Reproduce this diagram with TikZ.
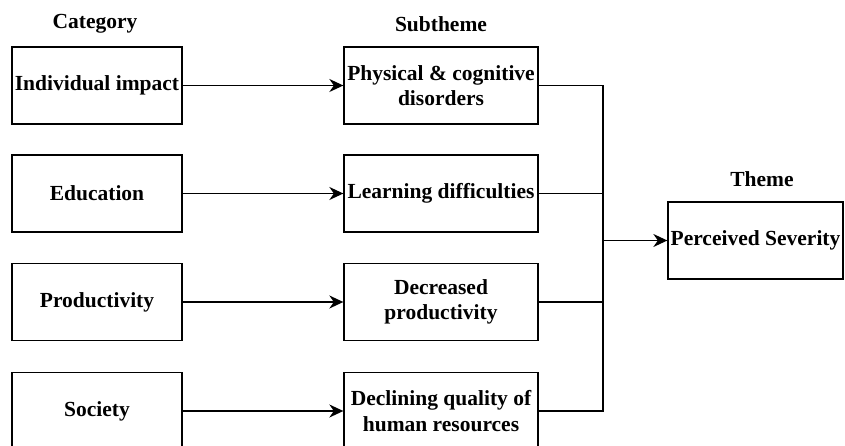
\documentclass[tikz,border=0pt]{standalone}
\usepackage{fontspec}
\setmainfont{Liberation Serif}
\usetikzlibrary{arrows.meta}
\begin{document}
\begin{tikzpicture}[x=1pt,y=-1pt,
  every node/.style={font=\fontsize{21.5}{25.5}\selectfont\bfseries},
  box/.style={draw=black,line width=1.3pt,inner sep=0pt,minimum height=77pt,align=center},
  catbox/.style={box,minimum width=170pt},
  subbox/.style={box,minimum width=194pt},
  themebox/.style={box,minimum width=175pt},
  head/.style={inner sep=0pt},
  link/.style={line width=1.5pt,draw=black},
  arr/.style={link,-{Stealth[length=14pt,width=13pt,inset=4.5pt]}}]
\useasboundingbox (0,0) rectangle (845,446);

% column headings
\node[head] (hcat) at (95,24) {Category};
\node[head] (hsub) at (441,24) {Subtheme};
\node[head] (hthm) at (762,179) {Theme};

% categories
\node[catbox] (c1) at (97,85.5) {Individual impact};
\node[catbox] (c2) at (97,193.5) {Education};
\node[catbox] (c3) at (97,302) {Productivity};
\node[catbox] (c4) at (97,411) {Society};

% subthemes
\node[subbox] (s1) at (441,85.5) {Physical \& cognitive\\disorders};
\node[subbox] (s2) at (441,193.5) {Learning difficulties};
\node[subbox] (s3) at (441,302) {Decreased\\productivity};
\node[subbox] (s4) at (441,411) {Declining quality of\\human resources};

% theme
\node[themebox] (t) at (755.5,240.5) {Perceived Severity};

% category to subtheme
\foreach \i in {1,...,4} {
  \draw[arr] (c\i) -- (s\i);
}

% subthemes merge into the theme
\coordinate (bus) at (603,240.5);
\foreach \i in {1,...,4} {
  \draw[link] (s\i.east) -| (bus);
}
\draw[arr] (bus) -- (t.west);
\end{tikzpicture}
\end{document}
